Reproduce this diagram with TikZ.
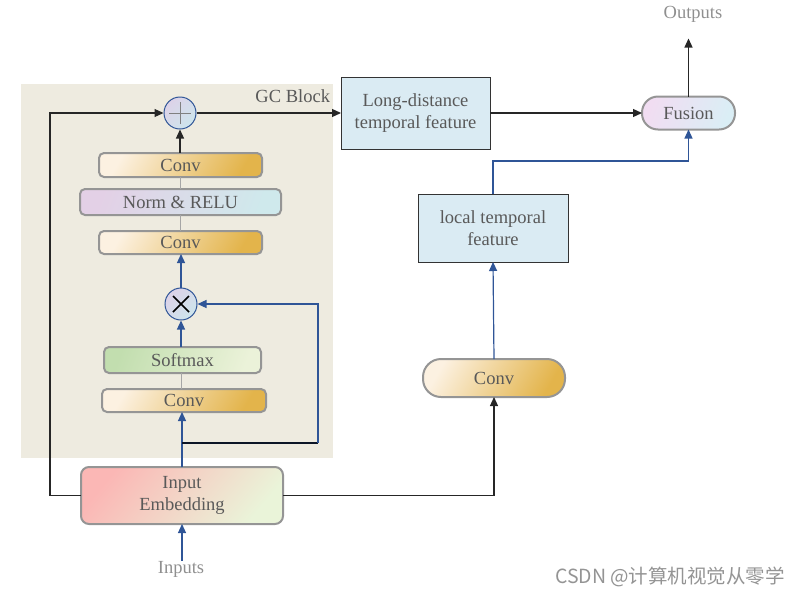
\documentclass[tikz,border=0pt]{standalone}
\usepackage{fontspec}
\setmainfont{Liberation Serif}
\newfontfamily\cjk{Noto Sans CJK SC}
\usetikzlibrary{arrows.meta}
\definecolor{gcbg}{HTML}{EEEBE0}
\definecolor{convL}{HTML}{FCF1E1}
\definecolor{convR}{HTML}{E3B44B}
\definecolor{normL}{HTML}{E3D0E6}
\definecolor{normR}{HTML}{CFE9EC}
\definecolor{smL}{HTML}{C2DEAF}
\definecolor{smR}{HTML}{EBF2D9}
\definecolor{ieL}{HTML}{FBB7B5}
\definecolor{ieR}{HTML}{EAF4D9}
\definecolor{fuL}{HTML}{F1DDF2}
\definecolor{fuR}{HTML}{DAEEF5}
\definecolor{circL}{HTML}{DDD2E8}
\definecolor{circR}{HTML}{CDE5EC}
\definecolor{bluarr}{HTML}{2F5597}
\definecolor{boxgray}{HTML}{959595}
\definecolor{tempfill}{HTML}{DAEBF3}
\definecolor{txt}{HTML}{595959}
\definecolor{lighttxt}{HTML}{8F8F8F}
\tikzset{
  lab/.style={font=\fontsize{18.5}{22}\selectfont, text=txt, align=center, inner sep=0pt, outer sep=0pt},
  gbox/.style={lab, draw=boxgray, line width=2pt, rounded corners=5pt},
  convbox/.style={gbox, top color=convL, bottom color=convR, shading angle=60},
  normbox/.style={gbox, top color=normL, bottom color=normR, shading angle=70},
  smbox/.style={gbox, top color=smL, bottom color=smR, shading angle=70},
  iebox/.style={gbox, rounded corners=8pt, top color=ieL, bottom color=ieR, shading angle=50},
  fubox/.style={gbox, rounded corners=16pt, top color=fuL, bottom color=fuR, shading angle=70},
  convstad/.style={gbox, rounded corners=18pt, top color=convL, bottom color=convR, shading angle=60},
  tempbox/.style={lab, draw=black!80, line width=1pt, fill=tempfill},
  circ/.style={circle, draw=bluarr, line width=1pt, minimum size=32pt, inner sep=0pt, top color=circL, bottom color=circR, shading angle=45},
  blk/.style={draw=black!85, line width=1.2pt, -{Triangle[length=9pt,width=8pt]}},
  blu/.style={draw=bluarr, line width=1.2pt, -{Triangle[length=9pt,width=8pt]}},
  thin/.style={draw=black!35, line width=1pt},
}
\begin{document}
\begin{tikzpicture}[x=1pt,y=-1pt]
\useasboundingbox (0,0) rectangle (800,595);
\fill[gcbg] (21,84) rectangle (333,458);
\node[lab, anchor=east] (gclab) at (330,96) {GC Block};

\node[circ] (plus) at (180,113) {};
\draw[black!50, line width=1pt] ([xshift=-11pt]plus.center) -- ([xshift=11pt]plus.center);
\draw[black!50, line width=1pt] ([yshift=-11pt]plus.center) -- ([yshift=11pt]plus.center);

\node[convbox, minimum width=163pt, minimum height=24pt] (c1) at (180.5,165) {Conv};
\node[normbox, minimum width=201pt, minimum height=26pt] (nr) at (180.5,202) {Norm \& RELU};
\node[convbox, minimum width=163pt, minimum height=23pt] (c2) at (180.5,242.5) {Conv};

\node[circ] (times) at (181,304) {};
\draw[black, line width=1.6pt] ([shift={(-8pt,-8pt)}]times.center) -- ([shift={(8pt,8pt)}]times.center);
\draw[black, line width=1.6pt] ([shift={(-8pt,8pt)}]times.center) -- ([shift={(8pt,-8pt)}]times.center);

\node[smbox, minimum width=157pt, minimum height=26pt] (sm) at (182.5,360) {Softmax};
\node[convbox, minimum width=164pt, minimum height=23pt] (c3) at (184,400.5) {Conv};
\node[iebox, minimum width=202pt, minimum height=57pt] (ie) at (182,495.5) {Input\\Embedding};
\node[lab, text=lighttxt] (inp) at (181,569) {Inputs};

\node[tempbox, minimum width=149pt, minimum height=72pt] (ld) at (415.5,113) {Long-distance\\temporal feature};
\node[fubox, minimum width=93pt, minimum height=33pt] (fu) at (688.5,113) {Fusion};
\node[lab, text=lighttxt] (out) at (693,14) {Outputs};
\node[tempbox, minimum width=150pt, minimum height=68pt] (lt) at (493,228) {local temporal\\feature};
\node[convstad, minimum width=142pt, minimum height=38pt] (cr) at (494,378) {Conv};

\node[inner sep=0pt, text=black!42, font=\cjk\fontsize{19.5}{22}\selectfont] (wm) at (670,577) {CSDN @计算机视觉从零学};

% connectors
\coordinate (lb) at (50,113);
\draw[blk] (ie.west) -| (lb) -- (plus.west);
\draw[blk] (plus.east) -- (ld.west);
\draw[blk] (plus.south |- c1.north) -- (plus.south);
\draw[thin] (c1.south) -- (nr.north);
\draw[thin] (nr.south) -- (c2.north);
\draw[thin] (times.south |- c3.north) -- (times.south |- sm.south);
\draw[blu] (times.north) -- (times.north |- c2.south);
\draw[blu] (times.south |- sm.north) -- (times.south);
\draw[blu] (ie.north) -- (ie.north |- c3.south);
\coordinate (br) at (182,443);
\coordinate (bk) at (318,443);
\draw[black!75!bluarr, line width=1.2pt] (br) -- (bk);
\draw[blu] (bk) |- (times.east);
\draw[blu] (ie.south |- inp.north) -- (ie.south);
\draw[blk] (ie.east) -| (cr.south);
\draw[blu] (cr.north) -- (lt.south);
\draw[blu] (lt.north) -- ++(0,-33) -| (fu.south);
\draw[blk] (ld.east) -- (fu.west);
\draw[blk] (fu.north) -- ++(0,-58);
\end{tikzpicture}
\end{document}
